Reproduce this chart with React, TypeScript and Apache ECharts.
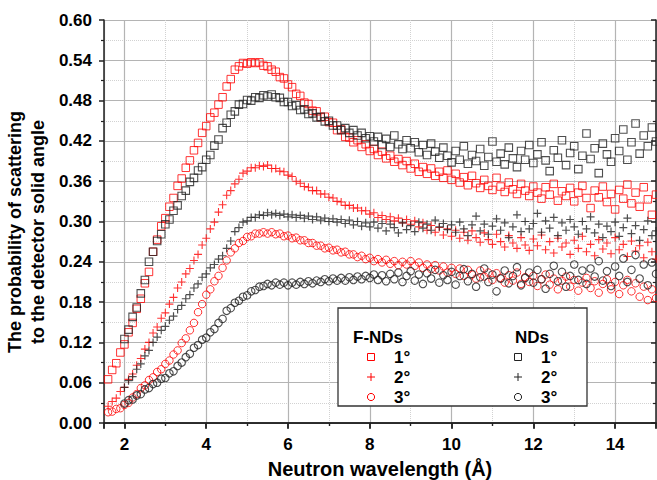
import React, { useEffect, useRef } from "react";
import * as echarts from "echarts";

// Neutron wavelength (Å)
const wavelength = [
  1.6, 1.7, 1.8, 1.9,
  2.0, 2.1, 2.2, 2.3, 2.4, 2.5, 2.6, 2.7, 2.8, 2.9,
  3.0, 3.1, 3.2, 3.3, 3.4, 3.5, 3.6, 3.7, 3.8, 3.9,
  4.0, 4.1, 4.2, 4.3, 4.4, 4.5, 4.6, 4.7, 4.8, 4.9,
  5.0, 5.1, 5.2, 5.3, 5.4, 5.5, 5.6, 5.7, 5.8, 5.9,
  6.0, 6.1, 6.2, 6.3, 6.4, 6.5, 6.6, 6.7, 6.8, 6.9,
  7.0, 7.1, 7.2, 7.3, 7.4, 7.5, 7.6, 7.7, 7.8, 7.9,
  8.0, 8.1, 8.2, 8.3, 8.4, 8.5, 8.6, 8.7, 8.8, 8.9,
  9.0, 9.1, 9.2, 9.3, 9.4, 9.5, 9.6, 9.7, 9.8, 9.9,
  10.0, 10.1, 10.2, 10.3, 10.4, 10.5, 10.6, 10.7, 10.8, 10.9,
  11.0, 11.1, 11.2, 11.3, 11.4, 11.5, 11.6, 11.7, 11.8, 11.9,
  12.0, 12.1, 12.2, 12.3, 12.4, 12.5, 12.6, 12.7, 12.8, 12.9,
  13.0, 13.1, 13.2, 13.3, 13.4, 13.5, 13.6, 13.7, 13.8, 13.9,
  14.0, 14.1, 14.2, 14.3, 14.4, 14.5, 14.6, 14.7, 14.8, 14.9,
  15.0,
];

// F-NDs 1° (red squares)
const fnd1 = [
  0.065, 0.079, 0.089, 0.105,
  0.117, 0.135, 0.149, 0.170, 0.185, 0.208, 0.225, 0.255, 0.273, 0.293,
  0.305, 0.322, 0.335, 0.353, 0.364, 0.380, 0.391, 0.406, 0.417, 0.432,
  0.442, 0.455, 0.462, 0.474, 0.485, 0.501, 0.512, 0.526, 0.531, 0.536,
  0.535, 0.537, 0.536, 0.537, 0.532, 0.531, 0.526, 0.523, 0.515, 0.513,
  0.504, 0.500, 0.490, 0.487, 0.477, 0.475, 0.465, 0.464, 0.455, 0.456,
  0.448, 0.447, 0.436, 0.437, 0.426, 0.425, 0.418, 0.421, 0.411, 0.415,
  0.405, 0.408, 0.399, 0.404, 0.394, 0.398, 0.389, 0.393, 0.384, 0.390,
  0.379, 0.386, 0.374, 0.381, 0.371, 0.379, 0.368, 0.374, 0.365, 0.376,
  0.362, 0.371, 0.358, 0.366, 0.354, 0.368, 0.357, 0.350, 0.362, 0.353,
  0.347, 0.365, 0.352, 0.344, 0.358, 0.348, 0.341, 0.356, 0.346, 0.338,
  0.352, 0.343, 0.334, 0.351, 0.340, 0.356, 0.331, 0.345, 0.338, 0.350,
  0.330, 0.343, 0.353, 0.335, 0.320, 0.346, 0.336, 0.352, 0.329, 0.341,
  0.318, 0.347, 0.334, 0.355, 0.327, 0.343, 0.322, 0.351, 0.333, 0.310,
  0.340,
];

// F-NDs 2° (red crosses)
const fnd2 = [
  0.025, 0.032, 0.037, 0.047,
  0.053, 0.065, 0.073, 0.086, 0.096, 0.110, 0.120, 0.134, 0.143, 0.156,
  0.164, 0.177, 0.187, 0.201, 0.210, 0.222, 0.230, 0.242, 0.251, 0.265,
  0.275, 0.289, 0.299, 0.314, 0.325, 0.339, 0.346, 0.356, 0.363, 0.372,
  0.375, 0.380, 0.380, 0.383, 0.382, 0.384, 0.379, 0.379, 0.375, 0.374,
  0.369, 0.367, 0.360, 0.357, 0.352, 0.351, 0.346, 0.346, 0.341, 0.341,
  0.336, 0.335, 0.330, 0.329, 0.324, 0.324, 0.320, 0.320, 0.316, 0.316,
  0.311, 0.313, 0.306, 0.309, 0.303, 0.307, 0.301, 0.305, 0.298, 0.303,
  0.296, 0.301, 0.292, 0.298, 0.287, 0.294, 0.284, 0.291, 0.280, 0.289,
  0.278, 0.287, 0.275, 0.284, 0.272, 0.286, 0.276, 0.269, 0.283, 0.273,
  0.266, 0.281, 0.270, 0.262, 0.279, 0.268, 0.260, 0.276, 0.265, 0.257,
  0.274, 0.264, 0.280, 0.258, 0.270, 0.253, 0.275, 0.262, 0.268, 0.251,
  0.272, 0.260, 0.278, 0.255, 0.266, 0.249, 0.273, 0.259, 0.268, 0.252,
  0.276, 0.258, 0.266, 0.248, 0.271, 0.256, 0.264, 0.246, 0.269, 0.255,
  0.244,
];

// F-NDs 3° (red circles)
const fnd3 = [
  0.016, 0.017, 0.021, 0.022,
  0.027, 0.030, 0.038, 0.043, 0.052, 0.056, 0.064, 0.068, 0.076, 0.080,
  0.088, 0.093, 0.102, 0.108, 0.119, 0.126, 0.138, 0.149, 0.165, 0.177,
  0.191, 0.199, 0.211, 0.219, 0.231, 0.242, 0.254, 0.260, 0.268, 0.271,
  0.277, 0.278, 0.282, 0.282, 0.284, 0.282, 0.284, 0.281, 0.282, 0.278,
  0.279, 0.275, 0.276, 0.272, 0.272, 0.268, 0.268, 0.264, 0.264, 0.260,
  0.261, 0.257, 0.258, 0.254, 0.255, 0.251, 0.251, 0.247, 0.249, 0.244,
  0.246, 0.241, 0.244, 0.239, 0.243, 0.237, 0.241, 0.235, 0.240, 0.236,
  0.241, 0.234, 0.239, 0.231, 0.236, 0.229, 0.235, 0.227, 0.233, 0.224,
  0.231, 0.222, 0.230, 0.219, 0.228, 0.221, 0.215, 0.227, 0.218, 0.224,
  0.213, 0.223, 0.216, 0.209, 0.220, 0.212, 0.224, 0.207, 0.217, 0.210,
  0.219, 0.204, 0.214, 0.221, 0.206, 0.215, 0.199, 0.212, 0.218, 0.203,
  0.213, 0.197, 0.209, 0.216, 0.201, 0.211, 0.194, 0.207, 0.214, 0.199,
  0.210, 0.192, 0.205, 0.213, 0.196, 0.208, 0.188, 0.203, 0.183, 0.199,
  0.186,
];

// NDs 1° (black squares)
const nd1 = [
  null, null, null, null,
  0.125, 0.139, 0.158, 0.172, 0.193, 0.213, 0.240, 0.255, 0.271, 0.281,
  0.296, 0.303, 0.316, 0.324, 0.338, 0.346, 0.359, 0.365, 0.376, 0.381,
  0.392, 0.399, 0.413, 0.422, 0.439, 0.447, 0.459, 0.464, 0.474, 0.475,
  0.481, 0.480, 0.485, 0.484, 0.488, 0.486, 0.489, 0.485, 0.484, 0.478,
  0.478, 0.472, 0.473, 0.466, 0.467, 0.460, 0.461, 0.455, 0.456, 0.449,
  0.450, 0.443, 0.443, 0.436, 0.439, 0.432, 0.436, 0.428, 0.432, 0.424,
  0.427, 0.419, 0.426, 0.414, 0.423, 0.411, 0.428, 0.415, 0.408, 0.421,
  0.409, 0.418, 0.403, 0.414, 0.399, 0.416, 0.404, 0.395, 0.410, 0.398,
  0.388, 0.405, 0.392, 0.412, 0.386, 0.399, 0.390, 0.408, 0.383, 0.396,
  0.419, 0.389, 0.401, 0.385, 0.410, 0.394, 0.381, 0.405, 0.392, 0.414,
  0.387, 0.400, 0.418, 0.391, 0.375, 0.406, 0.395, 0.421, 0.384, 0.402,
  0.412, 0.378, 0.398, 0.431, 0.393, 0.409, 0.372, 0.416, 0.400, 0.389,
  0.424, 0.405, 0.437, 0.392, 0.418, 0.446, 0.401, 0.428, 0.412, 0.440,
  0.419,
];

// NDs 2° (black crosses)
const nd2 = [
  null, null, null, null,
  0.053, 0.063, 0.069, 0.080, 0.088, 0.100, 0.108, 0.120, 0.128, 0.138,
  0.144, 0.153, 0.159, 0.169, 0.175, 0.185, 0.191, 0.201, 0.207, 0.217,
  0.222, 0.231, 0.236, 0.244, 0.249, 0.260, 0.271, 0.285, 0.291, 0.299,
  0.301, 0.306, 0.306, 0.310, 0.309, 0.313, 0.310, 0.312, 0.309, 0.311,
  0.307, 0.310, 0.306, 0.309, 0.305, 0.308, 0.303, 0.307, 0.302, 0.305,
  0.300, 0.304, 0.299, 0.303, 0.297, 0.302, 0.295, 0.300, 0.293, 0.298,
  0.292, 0.299, 0.290, 0.297, 0.286, 0.296, 0.291, 0.283, 0.298, 0.288,
  0.294, 0.285, 0.299, 0.290, 0.296, 0.287, 0.302, 0.292, 0.297, 0.288,
  0.295, 0.284, 0.299, 0.289, 0.279, 0.295, 0.308, 0.286, 0.296, 0.281,
  0.293, 0.304, 0.287, 0.298, 0.276, 0.292, 0.310, 0.285, 0.300, 0.289,
  0.297, 0.312, 0.284, 0.301, 0.290, 0.306, 0.279, 0.298, 0.287, 0.303,
  0.292, 0.281, 0.300, 0.289, 0.307, 0.283, 0.296, 0.276, 0.293, 0.285,
  0.299, 0.278, 0.291, 0.305, 0.282, 0.294, 0.272, 0.288, 0.301, 0.279,
  0.286,
];

// NDs 3° (black circles)
const nd3 = [
  null, null, null, null,
  0.029, 0.034, 0.035, 0.041, 0.043, 0.050, 0.052, 0.058, 0.060, 0.066,
  0.067, 0.074, 0.077, 0.085, 0.090, 0.098, 0.103, 0.112, 0.116, 0.124,
  0.127, 0.135, 0.140, 0.149, 0.155, 0.167, 0.171, 0.179, 0.182, 0.188,
  0.190, 0.196, 0.198, 0.203, 0.204, 0.207, 0.205, 0.209, 0.206, 0.209,
  0.205, 0.209, 0.206, 0.210, 0.207, 0.211, 0.208, 0.212, 0.210, 0.214,
  0.211, 0.215, 0.212, 0.216, 0.212, 0.217, 0.213, 0.218, 0.214, 0.219,
  0.216, 0.221, 0.213, 0.220, 0.211, 0.222, 0.214, 0.224, 0.210, 0.219,
  0.226, 0.212, 0.221, 0.207, 0.223, 0.215, 0.228, 0.209, 0.220, 0.213,
  0.225, 0.206, 0.219, 0.229, 0.211, 0.222, 0.203, 0.217, 0.230, 0.210,
  0.221, 0.196, 0.215, 0.227, 0.208, 0.219, 0.232, 0.205, 0.216, 0.224,
  0.209, 0.228, 0.214, 0.200, 0.222, 0.234, 0.211, 0.225, 0.203, 0.219,
  0.236, 0.213, 0.227, 0.207, 0.230, 0.218, 0.241, 0.212, 0.226, 0.204,
  0.233, 0.219, 0.245, 0.210, 0.228, 0.250, 0.215, 0.236, 0.205, 0.239,
  0.222,
];

const legendRows = ["1°", "2°", "3°"];

const RED = "#ff0000";
const BLACK = "#222222";
const FONT = '"Liberation Sans", Arial, Helvetica, sans-serif';
const PLUS = "path://M0,4H8M4,0V8";

function pairs(vals: (number | null)[]) {
  const out: number[][] = [];
  wavelength.forEach((x, i) => {
    const v = vals[i];
    if (v !== null && v !== undefined) out.push([x, v]);
  });
  return out;
}

export default function App() {
  const ref = useRef<HTMLDivElement>(null);

  useEffect(() => {
    if (!ref.current) return;
    const chart = echarts.init(ref.current, undefined, { renderer: "svg" });

    const mkSeries = (name: string, vals: (number | null)[], color: string, symbol: string, size: number, bw: number) => ({
      name,
      type: "scatter",
      data: pairs(vals),
      symbol,
      symbolSize: size,
      itemStyle: { color: "rgba(0,0,0,0)", borderColor: color, borderWidth: bw },
      emphasis: { disabled: true },
    });

    const axisLine = { show: true, lineStyle: { color: "#222", width: 1.5 } };
    const baseX = {
      type: "value",
      min: 1.5,
      max: 15,
      splitNumber: 7,
      axisLine,
      minorTick: { show: true, splitNumber: 2, length: 3, lineStyle: { color: "#222", width: 1.2 } },
    };
    const baseY = {
      type: "value",
      min: 0,
      max: 0.6,
      interval: 0.06,
      axisLine,
      minorTick: { show: true, splitNumber: 2, length: 3, lineStyle: { color: "#222", width: 1.2 } },
    };

    const legendItems: any[] = [];
    const rowY = [357, 377, 397];
    const symbolsAt = (cx: number, color: string) => {
      legendItems.push({
        type: "rect",
        shape: { x: cx - 3.5, y: rowY[0] - 3.5, width: 7, height: 7 },
        style: { fill: "none", stroke: color, lineWidth: 1 },
        z: 101,
      });
      legendItems.push({
        type: "line",
        shape: { x1: cx - 4, y1: rowY[1], x2: cx + 4, y2: rowY[1] },
        style: { stroke: color, lineWidth: 1 },
        z: 101,
      });
      legendItems.push({
        type: "line",
        shape: { x1: cx, y1: rowY[1] - 4, x2: cx, y2: rowY[1] + 4 },
        style: { stroke: color, lineWidth: 1 },
        z: 101,
      });
      legendItems.push({
        type: "circle",
        shape: { cx, cy: rowY[2], r: 3.6 },
        style: { fill: "none", stroke: color, lineWidth: 1 },
        z: 101,
      });
    };
    symbolsAt(371, RED);
    symbolsAt(518, BLACK);
    legendRows.forEach((t, i) => {
      [394, 541].forEach((x) => {
        legendItems.push({
          type: "text",
          x,
          y: rowY[i],
          style: { text: t, font: `bold 17px ${FONT}`, fill: "#000", align: "left", verticalAlign: "middle" },
          z: 101,
        });
      });
    });

    chart.setOption({
      animation: false,
      backgroundColor: "#fff",
      grid: { left: 104, right: 1, top: 20, bottom: 57, containLabel: false, outerBoundsMode: "none" },
      xAxis: [
        {
          ...baseX,
          position: "bottom",
          name: "Neutron wavelength (Å)",
          nameLocation: "middle",
          nameGap: 36,
          nameTextStyle: { fontFamily: FONT, fontWeight: "bold", fontSize: 20, color: "#000" },
          axisTick: { show: true, inside: false, length: 6, lineStyle: { color: "#222", width: 1.5 } },
          axisLabel: {
            show: true,
            margin: 13,
            fontFamily: FONT,
            fontWeight: "bold",
            fontSize: 17,
            color: "#000",
            formatter: (v: number) => (Math.abs(v % 2) < 1e-6 ? String(v) : ""),
          },
          splitLine: { show: true, lineStyle: { color: "#b4b4b4", width: 1.2 } },
          minorSplitLine: { show: true, lineStyle: { color: "#d2d2d2", width: 1, type: "dotted" } },
        },
        {
          ...baseX,
          position: "top",
          axisTick: { show: true, inside: true, length: 5, lineStyle: { color: "#222", width: 1.5 } },
          axisLabel: { show: false },
          splitLine: { show: false },
        },
      ],
      yAxis: [
        {
          ...baseY,
          position: "left",
          axisTick: { show: true, inside: false, length: 5, lineStyle: { color: "#222", width: 1.5 } },
          axisLabel: {
            show: true,
            margin: 12,
            fontFamily: FONT,
            fontWeight: "bold",
            fontSize: 17,
            color: "#000",
            formatter: (v: number) => v.toFixed(2),
          },
          splitLine: { show: true, lineStyle: { color: "#b4b4b4", width: 1.2 } },
          minorSplitLine: { show: true, lineStyle: { color: "#d2d2d2", width: 1, type: "dotted" } },
        },
        {
          ...baseY,
          position: "right",
          axisTick: { show: true, inside: true, length: 5, lineStyle: { color: "#222", width: 1.5 } },
          axisLabel: { show: false },
          splitLine: { show: false },
        },
      ],
      series: [
        mkSeries("F-NDs 1°", fnd1, RED, "rect", 7.5, 1),
        mkSeries("F-NDs 2°", fnd2, RED, PLUS, 8, 1.1),
        mkSeries("F-NDs 3°", fnd3, RED, "circle", 7.5, 1),
        mkSeries("NDs 1°", nd1, BLACK, "rect", 7.5, 1.1),
        mkSeries("NDs 2°", nd2, BLACK, PLUS, 8, 1.2),
        mkSeries("NDs 3°", nd3, BLACK, "circle", 7.5, 1.1),
      ],
      graphic: [
        {
          type: "text",
          x: 26,
          y: 232,
          rotation: Math.PI / 2,
          style: {
            text: "The probability of scattering\nto the detector solid angle",
            font: `bold 18px ${FONT}`,
            lineHeight: 23,
            fill: "#000",
            align: "center",
            verticalAlign: "middle",
          },
          z: 100,
        },
        {
          type: "rect",
          shape: { x: 338, y: 308, width: 249, height: 98 },
          style: { fill: "#fff", stroke: "#333", lineWidth: 1.3 },
          z: 100,
        },
        {
          type: "text",
          x: 353,
          y: 337,
          style: { text: "F-NDs", font: `bold 17px ${FONT}`, fill: "#000", align: "left", verticalAlign: "middle" },
          z: 101,
        },
        {
          type: "text",
          x: 515,
          y: 337,
          style: { text: "NDs", font: `bold 17px ${FONT}`, fill: "#000", align: "left", verticalAlign: "middle" },
          z: 101,
        },
        ...legendItems,
      ],
    });

    return () => chart.dispose();
  }, []);

  return (
    <div
      ref={ref}
      style={{ position: "absolute", left: 0, top: 0, width: 657, height: 480 }}
    />
  );
}
